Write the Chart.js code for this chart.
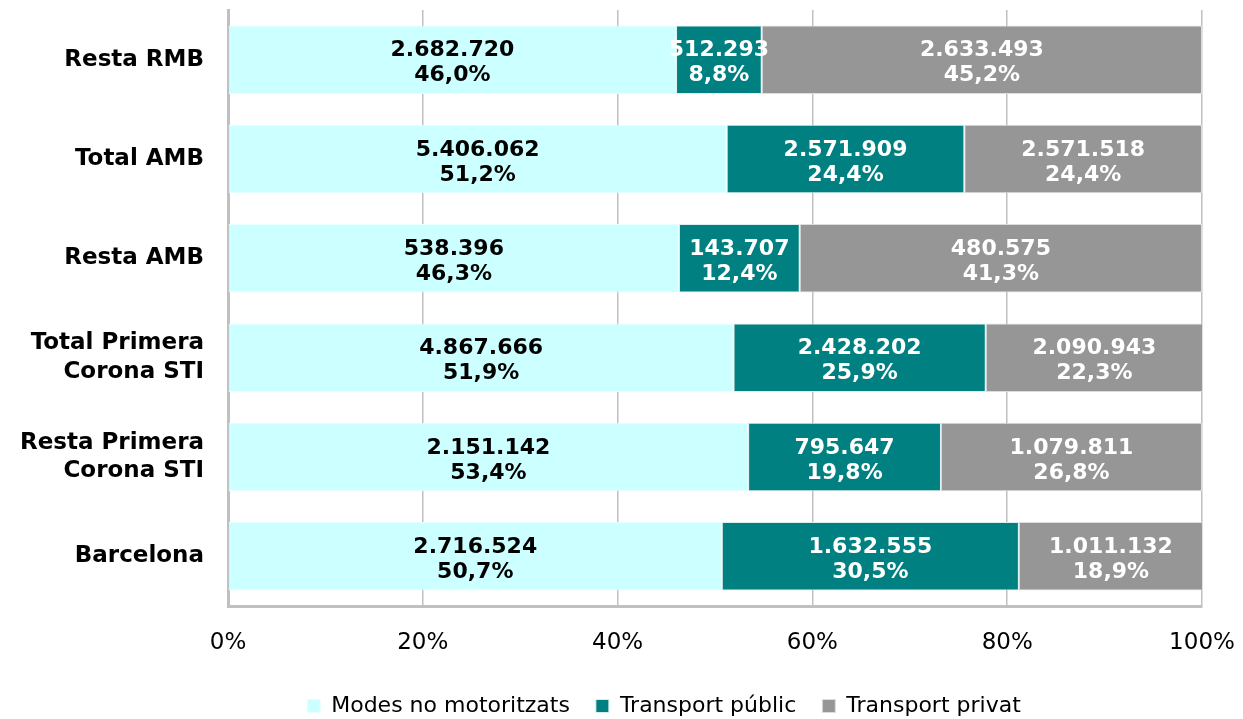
<!DOCTYPE html>
<html>
<head>
<meta charset="utf-8">
<script src="https://cdn.jsdelivr.net/npm/chart.js@4"></script>
<style>
  body { margin: 0; background: #fff; overflow: hidden; }
  #wrap { width: 1243px; height: 727px; }
</style>
</head>
<body>
<div id="wrap"><canvas id="grafic"></canvas></div>
<script>
// Dades (viatges per mode)
const categories = ['Resta RMB', 'Total AMB', 'Resta AMB', ['Total Primera', 'Corona STI'], ['Resta Primera', 'Corona STI'], 'Barcelona'];
const noMotoritzats = [2682720, 5406062, 538396, 4867666, 2151142, 2716524];
const transportPublic = [512293, 2571909, 143707, 2428202, 795647, 1632555];
const transportPrivat = [2633493, 2571518, 480575, 2090943, 1079811, 1011132];
const pctNoMotoritzats = [46.0, 51.2, 46.3, 51.9, 53.4, 50.7];
const pctPublic = [8.8, 24.4, 12.4, 25.9, 19.8, 30.5];
const pctPrivat = [45.2, 24.4, 41.3, 22.3, 26.8, 18.9];
const xTicks = [0, 20, 40, 60, 80, 100];

const FONT = '"DejaVu Sans", Verdana, sans-serif';

function milers(v) {
  return String(v).replace(/\B(?=(\d{3})+(?!\d))/g, '.');
}
function percent(v) {
  return v.toFixed(1).replace('.', ',') + '%';
}

// etiquetes dins les barres: valor absolut + percentatge
const etiquetes = {
  id: 'etiquetes',
  afterLayout(chart) {
    // la llegenda de l'original queda una mica desplaçada a la dreta
    chart.legend.left += 63;
    chart.legend.right += 63;
  },
  afterDatasetsDraw(chart) {
    const ctx = chart.ctx;
    ctx.save();
    ctx.font = 'bold 22px ' + FONT;
    ctx.textAlign = 'center';
    ctx.textBaseline = 'middle';
    chart.data.datasets.forEach((ds, i) => {
      const meta = chart.getDatasetMeta(i);
      meta.data.forEach((bar, j) => {
        const x = (bar.x + bar.base) / 2;
        ctx.fillStyle = ds.textColor;
        ctx.fillText(milers(ds.absoluts[j]), x, bar.y - 9);
        ctx.fillText(percent(ds.data[j]), x, bar.y + 16);
      });
    });
    ctx.restore();
  }
};

new Chart(document.getElementById('grafic'), {
  type: 'bar',
  data: {
    labels: categories,
    datasets: [
      { label: 'Modes no motoritzats', data: pctNoMotoritzats, absoluts: noMotoritzats, backgroundColor: '#ccffff', borderColor: '#e8ffff', textColor: '#000000' },
      { label: 'Transport públic', data: pctPublic, absoluts: transportPublic, backgroundColor: '#008080', borderColor: '#d8eeee', textColor: '#ffffff' },
      { label: 'Transport privat', data: pctPrivat, absoluts: transportPrivat, backgroundColor: '#969696', borderColor: '#dddddd', textColor: '#ffffff' }
    ]
  },
  options: {
    indexAxis: 'y',
    responsive: true,
    maintainAspectRatio: false,
    animation: false,
    layout: { padding: { top: 10, right: 41, bottom: 0, left: 0 } },
    datasets: {
      bar: {
        categoryPercentage: 1,
        barPercentage: 0.69,
        borderWidth: 1,
        borderSkipped: false
      }
    },
    scales: {
      x: {
        stacked: true,
        min: 0,
        max: 100,
        afterBuildTicks: axis => { axis.ticks = xTicks.map(v => ({ value: v })); },
        afterFit: axis => {
          axis.height = 63;
          axis.paddingLeft = 0;
          axis.paddingRight = 0;
        },
        grid: { color: '#c0c0c0', lineWidth: 1.5, drawTicks: false },
        border: { color: '#c0c0c0', width: 3 },
        ticks: {
          padding: 23,
          color: '#000',
          font: { family: FONT, size: 23 },
          callback: v => v + '%'
        }
      },
      y: {
        stacked: true,
        afterFit: axis => {
          axis.width = 228;
          axis.paddingTop = 0;
          axis.paddingBottom = 0;
        },
        grid: { display: false, drawTicks: false },
        border: { color: '#c0c0c0', width: 3 },
        ticks: {
          padding: 24,
          color: '#000',
          font: { family: FONT, size: 23, weight: 'bold', lineHeight: 1.25 }
        }
      }
    },
    plugins: {
      legend: {
        position: 'bottom',
        labels: {
          boxWidth: 13,
          boxHeight: 13,
          padding: 26,
          color: '#000',
          font: { family: FONT, size: 22 }
        }
      },
      tooltip: { enabled: false }
    }
  },
  plugins: [etiquetes]
});
</script>
</body>
</html>
